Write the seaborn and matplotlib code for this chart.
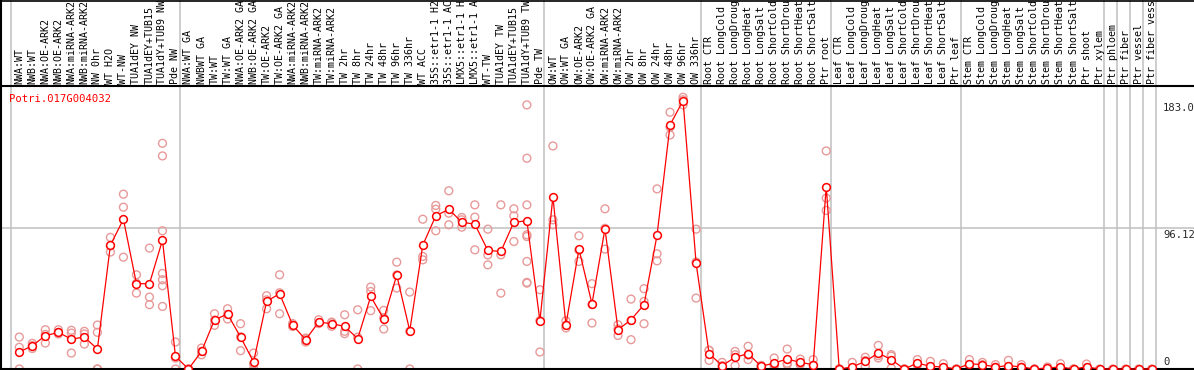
import numpy as np
import pandas as pd
import matplotlib
matplotlib.use("Agg")
import matplotlib.pyplot as plt
import matplotlib.transforms as mtransforms
from matplotlib.lines import Line2D
import seaborn as sns

gene = "Potri.017G004032"

labels = [
    "NWA:WT", "NWB:WT", "NWA:OE-ARK2", "NWB:OE-ARK2", "NWA:miRNA-ARK2", "NWB:miRNA-ARK2",
    "NW 0hr", "WT H2O", "WT-NW", "TUA1dEY NW", "TUA1dEY+TUB15", "TUA1dY+TUB9 NW", "Pde NW",
    "NWA:WT GA", "NWBWT GA", "TW:WT", "TW:WT GA", "NWA:OE-ARK2 GA", "NWB:OE-ARK2 GA",
    "TW:OE-ARK2", "TW:OE-ARK2 GA", "NWA:miRNA-ARK2", "NWB:miRNA-ARK2", "TW:miRNA-ARK2",
    "TW:miRNA-ARK2", "TW 2hr", "TW 8hr", "TW 24hr", "TW 48hr", "TW 96hr", "TW 336hr",
    "WT ACC", "35S::etr1-1 H2", "35S::etr1-1 AC", "LMX5::etr1-1 H", "LMX5::etr1-1 A",
    "WT-TW", "TUA1dEY TW", "TUA1dEY+TUB15", "TUA1dY+TUB9 TW", "Pde TW",
    "OW:WT", "OW:WT GA", "OW:OE-ARK2", "OW:OE-ARK2 GA", "OW:miRNA-ARK2", "OW:miRNA-ARK2",
    "OW 2hr", "OW 8hr", "OW 24hr", "OW 48hr", "OW 96hr", "OW 336hr",
    "Root CTR", "Root LongCold", "Root LongDroug", "Root LongHeat", "Root LongSalt",
    "Root ShortCold", "Root ShortDrou", "Root ShortHeat", "Root ShortSalt", "Ptr root",
    "Leaf CTR", "Leaf LongCold", "Leaf LongDroug", "Leaf LongHeat", "Leaf LongSalt",
    "Leaf ShortCold", "Leaf ShortDrou", "Leaf ShortHeat", "Leaf ShortSalt", "Ptr leaf",
    "Stem CTR", "Stem LongCold", "Stem LongDroug", "Stem LongHeat", "Stem LongSalt",
    "Stem ShortCold", "Stem ShortDrou", "Stem ShortHeat", "Stem ShortSalt", "Ptr shoot",
    "Ptr xylem", "Ptr phloem", "Ptr fiber", "Ptr vessel", "Ptr fiber vess",
]

means = [
    11.6, 15.9, 22.7, 25.0, 20.4, 21.8, 13.6, 84.5, 102.2, 58.2, 58.2, 87.9, 8.6,
    0, 12.0, 33.6, 37.5, 21.8, 4.8, 46.1, 51.4, 30.0, 20.0, 32.0, 30.9,
    29.1, 20.7, 49.5, 34.1, 64.1, 26.1, 84.5, 104.5, 109.0, 100.2, 98.8,
    80.9, 80.2, 100.2, 101.1, 32.9,
    117.5, 30.2, 81.8, 44.5, 95.7, 26.8, 33.6, 43.9, 91.3, 166.6, 183.1, 72.3,
    10.5, 2.3, 8.0, 10.5, 1.8, 4.1, 6.8, 4.5, 3.0, 124.5,
    0, 1.4, 5.2, 10.9, 6.4, 0, 4.1, 1.8, 1.4, 0,
    3.6, 3.0, 1.4, 2.3, 1.4, 0, 0.7, 1.4, 0, 1.4,
    0, 0, 0, 0, 0,
]

replicates = [
    [21.8, 14.8, 0], [17.5, 14, 16], [26.8, 17.7, 23.6], [26.8, 23.9, 25],
    [26.4, 24.5, 10.9], [25.7, 23.9, 17.0], [30, 25, 0, 0], [89.8, 79.8, 84],
    [119.3, 110.4, 76.3], [64.3, 51.8, 58.5], [82.5, 49.1, 43.9],
    [154, 145.4, 94.3, 65.2, 60.9, 56.8, 42.7], [18.4, 0, 7.5],
    [0, 0, 0], [14.3, 12, 9.7], [37.7, 29.8, 33.4], [41.1, 34.1, 37.3],
    [30.9, 12.5, 22], [10.9, 0, 3.5], [50, 41.1, 47.2], [64.3, 37.7, 52],
    [31, 29, 30], [21.1, 18.4, 20.5], [33.6, 31.4, 31], [32, 29.1, 31.6],
    [37, 25.7, 24.1], [40.4, 0, 21.7], [55.9, 52.9, 39.8], [40, 27.3, 35],
    [72.9, 55.2, 64.2],
    [52.5, 0, 25.8], [102.2, 76.8, 74.5], [111.6, 109, 94.3], [121.6, 106.3, 98.4],
    [103.4, 101.8, 96.8], [112, 103.6, 81.3], [95.4, 77.9, 71.1], [112, 77.9, 51.8],
    [109.3, 104.5, 87], [180.2, 143.8, 112, 91.6, 90.4, 73.4, 59.1, 58.6],
    [54.1, 11.6, 33], [152.2, 101.8, 98.4], [32.9, 28, 29.8], [90.9, 73.4, 81.1],
    [58.2, 31.4, 44], [109.3, 81.8, 96], [30.2, 22.9, 27.3], [47.7, 20, 33.1],
    [54.8, 46.1, 30.9], [122.9, 78.6, 73.8],
    [175.2, 159.7, 165], [185.4, 180.2, 183.7], [95.4, 48.4, 73], [12.7, 5.9, 12.8],
    [4.5, 0, 2.3], [12, 2.3, 9.7], [15.5, 6.4, 9.5], [2.5, 1, 2], [7.5, 1.8, 3],
    [13.6, 3, 4],
    [6.8, 3, 3.7], [6.4, 0, 2.6], [148.8, 116.6, 108.2], [0, 0, 0], [4.5, 0, 0],
    [8, 1.8, 5.8], [16.1, 7.5, 9.1], [9.8, 8.8, 0.6], [0, 0, 0], [6.4, 3, 2.9],
    [5.2, 0, 0.2], [3.6, 0.6, 0], [0, 0, 0], [6.4, 3, 1.4], [4.5, 3, 1.5],
    [3, 1.2, 0], [5.9, 1, 0], [3, 1.2, 0], [0, 0, 0], [1.4, 0.7, 0],
    [3.6, 0.6, 0], [0, 0, 0], [3.4, 0.8, 0],
    [0], [0], [0], [0], [0],
]

# first sample of each block, vertical separators are drawn just left of them
group_starts = [0, 13, 41, 53, 63, 73, 84, 85, 86, 87, 88]
y_ticks = [183.0, 96.12, 0]
y_tick_text = ["183.0", "96.12", "0"]

idx = np.arange(len(labels))
rep_df = pd.DataFrame(
    [(i, v) for i, vals in enumerate(replicates) for v in vals],
    columns=["sample", "value"],
)
mean_df = pd.DataFrame({"sample": idx, "value": means})

W, H = 1194, 370
sns.set_style("white")
plt.rcParams["font.family"] = ["DejaVu Sans Mono", "DejaVu Sans"]

fig = plt.figure(figsize=(W / 100, H / 100), dpi=100)
ax = fig.add_axes([0, 1 / H, 1, 283 / H])

spacing = 13.015
x0 = 19.3
ax.set_xlim(-x0 / spacing, (W - x0) / spacing)
ax.set_ylim(0, 193.1)

grid_c = "#c0c0c0"
top_frac = 369 / 283
for g in group_starts:
    ax.axvline(g - 0.65, ymin=0, ymax=top_frac, color=grid_c, lw=1.1,
               clip_on=False, zorder=0)
ax.axhline(96.12, color=grid_c, lw=1.1, zorder=0)

sns.scatterplot(data=rep_df, x="sample", y="value", ax=ax, marker="o",
                s=32, facecolor="none", edgecolor="#e89a9a", linewidth=1.0,
                clip_on=False, zorder=2, legend=False)
sns.lineplot(data=mean_df, x="sample", y="value", ax=ax, color="red", lw=0.9,
             marker="o", markersize=5.6, markerfacecolor="white",
             markeredgecolor="red", markeredgewidth=1.1, clip_on=False,
             zorder=3, legend=False)

ax.set_xlabel("")
ax.set_ylabel("")
ax.set_xticks([])
ax.set_yticks([])
ax.spines["right"].set_visible(False)
for side in ["top", "bottom", "left"]:
    ax.spines[side].set_color("black")
    ax.spines[side].set_linewidth(1.5)

# sample names above the plot
trans = mtransforms.blended_transform_factory(ax.transData, ax.transAxes)
for i, lab in enumerate(labels):
    ax.text(i, 1.008, lab, rotation=90, ha="center", va="bottom",
            fontsize=7.2, color="black", transform=trans, clip_on=False)

ax.text(9 / W, 0.972, gene, transform=ax.transAxes, color="red",
        fontsize=7.6, ha="left", va="top")

tick_trans = mtransforms.blended_transform_factory(ax.transAxes, ax.transData)
for v, t in zip(y_ticks, y_tick_text):
    ax.text(1163 / W, v + (-1.5 if v > 0 else 1.5), t, transform=tick_trans,
            fontsize=7.6, ha="left", va="top" if v > 0 else "bottom")

# outer frame lines of the label band
fig.add_artist(Line2D([0.5 / W, 0.5 / W], [0, 1], color="black", lw=1.5))
fig.add_artist(Line2D([0, 1], [1 - 0.5 / H, 1 - 0.5 / H], color="black", lw=1.2))

fig.savefig("out.png", dpi=100)
